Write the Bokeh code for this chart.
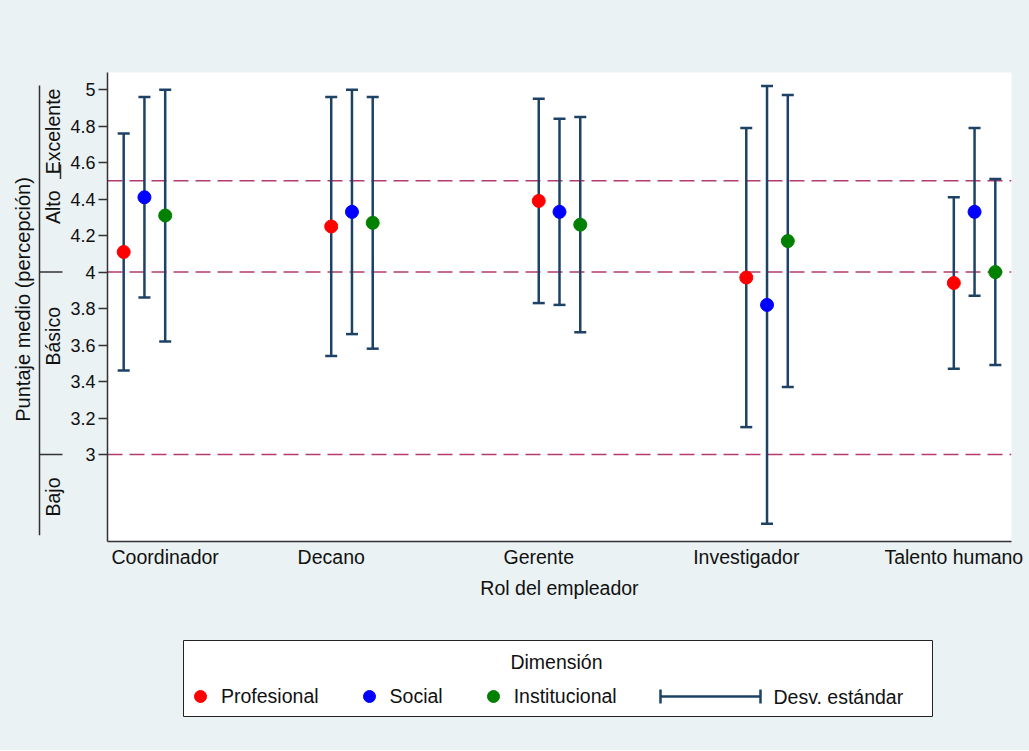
import numpy as np
from math import pi
from bokeh.plotting import figure
from bokeh.models import (ColumnDataSource, Whisker, TeeHead, Span, FixedTicker, Range1d,
                          Legend, LegendItem, CustomJSTickFormatter)
from bokeh.layouts import row, column
from bokeh.core.properties import value
from bokeh.embed import file_html
from bokeh.resources import INLINE

# ---------------- data ----------------
roles = ["Coordinador", "Decano", "Gerente", "Investigador", "Talento humano"]
dimensions = ["Profesional", "Social", "Institucional"]

prof_mean = [4.11, 4.25, 4.39, 3.97, 3.94]
prof_sd = [0.65, 0.71, 0.56, 0.82, 0.47]
soc_mean = [4.41, 4.33, 4.33, 3.82, 4.33]
soc_sd = [0.55, 0.67, 0.51, 1.20, 0.46]
inst_mean = [4.31, 4.27, 4.26, 4.17, 4.00]
inst_sd = [0.69, 0.69, 0.59, 0.80, 0.51]

ref_lines = [3.0, 4.0, 4.5]
y_ticks = [3.0, 3.2, 3.4, 3.6, 3.8, 4.0, 4.2, 4.4, 4.6, 4.8, 5.0]
y_tick_labels = ["3", "3.2", "3.4", "3.6", "3.8", "4", "4.2", "4.4", "4.6", "4.8", "5"]
band_names = ["Bajo", "Básico", "Alto", "Excelente"]
band_label_pos = [2.767, 3.648, 4.355, 4.771]
band_breaks = [3.0, 4.0]
role_tick_pos = [0.1, 0.9, 1.9, 2.9, 3.9]

# ---------------- style ----------------
BG = "#eaf2f3"
FONT = "Liberation Sans"
FS = "19.5px"
TXT = "#111111"
BAR = "#1e4266"
COLORS = ["#ff0000", "#0000ff", "#008000"]
OFFSETS = [-0.1, 0.0, 0.1]

# ---------------- main figure ----------------
main = figure(width=962, height=618, x_range=Range1d(-0.178, 4.178), y_range=Range1d(2.523, 5.094),
              output_backend="svg", toolbar_location=None,
              min_border_left=38, min_border_right=18, min_border_top=72, min_border_bottom=77)
main.background_fill_color = "white"
main.border_fill_color = BG
main.outline_line_color = None
main.grid.visible = False

for v in ref_lines:
    main.add_layout(Span(location=v, dimension="width", line_color="#b23a6e", line_width=1.5,
                         line_dash="15 7", level="underlay"))

series = [(prof_mean, prof_sd), (soc_mean, soc_sd), (inst_mean, inst_sd)]
for (m, s), col, off in zip(series, COLORS, OFFSETS):
    m = np.array(m); s = np.array(s)
    src = ColumnDataSource(dict(x=np.arange(len(roles)) + off, mean=m, upper=m + s, lower=m - s))
    w = Whisker(base="x", upper="upper", lower="lower", source=src, line_color=BAR, line_width=2.5,
                upper_head=TeeHead(size=12, line_color=BAR, line_width=2.5),
                lower_head=TeeHead(size=12, line_color=BAR, line_width=2.5), level="underlay")
    main.add_layout(w)
    main.scatter("x", "mean", source=src, size=13, color=col)

yax = main.yaxis[0]
yax.ticker = FixedTicker(ticks=y_ticks)
yax.formatter = CustomJSTickFormatter(args=dict(labels=y_tick_labels), code="return labels[index]")
yax.major_tick_out = 9
yax.major_tick_in = 0
yax.minor_tick_line_color = None
yax.major_label_standoff = 3
yax.axis_line_color = "#333333"
yax.axis_line_width = 1.5
yax.major_tick_line_color = "#333333"
yax.major_tick_line_width = 1.5
yax.major_label_text_font = FONT
yax.major_label_text_font_size = "18px"
yax.major_label_text_color = TXT

xax = main.xaxis[0]
xax.ticker = FixedTicker(ticks=role_tick_pos)
xax.formatter = CustomJSTickFormatter(args=dict(names=roles), code="return names[index]")
xax.major_tick_out = 0
xax.major_tick_in = 0
xax.minor_tick_line_color = None
xax.major_tick_line_color = None
xax.axis_line_color = "#333333"
xax.axis_line_width = 1.5
xax.major_label_standoff = 4
xax.major_label_text_font = FONT
xax.major_label_text_font_size = FS
xax.major_label_text_color = TXT
xax.axis_label = "Rol del empleador"
xax.axis_label_text_font = FONT
xax.axis_label_text_font_size = FS
xax.axis_label_text_font_style = "normal"
xax.axis_label_text_color = TXT
xax.axis_label_standoff = 6

# ---------------- left decoration (title + qualitative bands) ----------------
lf = figure(width=67, height=618, x_range=Range1d(0, 67), y_range=main.y_range,
            x_axis_location=None, y_axis_location=None, output_backend="svg", toolbar_location=None,
            min_border_left=0, min_border_right=0, min_border_top=72, min_border_bottom=77)
lf.background_fill_color = BG
lf.border_fill_color = BG
lf.outline_line_color = None
lf.grid.visible = False

lf.segment(x0=39, y0=5.023, x1=39, y1=2.557, line_color="#333333", line_width=1.5)
lf.segment(x0=39, y0=band_breaks, x1=62, y1=band_breaks, line_color="#333333", line_width=1.5)
lf.segment(x0=60, y0=4.51, x1=60, y1=4.59, line_color="#333333", line_width=1.5)
lf.text(x=52, y=band_label_pos, text=band_names, angle=pi / 2, text_align="center",
        text_baseline="middle", text_font=value(FONT), text_font_size=value(FS), text_color=TXT)
lf.text(x=22, y=[3.85], text=["Puntaje medio (percepción)"], angle=pi / 2, text_align="center",
        text_baseline="middle", text_font=value(FONT), text_font_size=value("20px"), text_color=TXT)

# ---------------- legend panel ----------------
lg = figure(width=1029, height=132, x_range=Range1d(183, 932), y_range=Range1d(716, 640),
            x_axis_location=None, y_axis_location=None, output_backend="svg", toolbar_location=None,
            min_border_left=183, min_border_right=97, min_border_top=22, min_border_bottom=34)
lg.background_fill_color = "white"
lg.border_fill_color = BG
lg.outline_line_color = "#222222"
lg.outline_line_width = 1
lg.grid.visible = False

items = []
for name, col in zip(dimensions, COLORS):
    r = lg.scatter(x=[0], y=[0], size=13, color=col)
    items.append(LegendItem(label=name, renderers=[r]))
leg = Legend(items=items, orientation="horizontal", location=(2, 5), glyph_width=30, glyph_height=30,
             label_height=30, label_standoff=6, spacing=35, padding=0, margin=0,
             border_line_color=None, background_fill_alpha=0,
             label_text_font=FONT, label_text_font_size=FS, label_text_color=TXT)
lg.add_layout(leg, "center")

lg.text(x=[556], y=[661], text=["Dimensión"], text_align="center", text_baseline="middle",
        text_font=value(FONT), text_font_size=value(FS), text_color=TXT)
lg.segment(x0=[660, 660, 760], y0=[696, 689, 689], x1=[760, 660, 760], y1=[696, 703, 703],
           line_color=BAR, line_width=2.5)
lg.text(x=[773], y=[696], text=["Desv. estándar"], text_align="left", text_baseline="middle",
        text_font=value(FONT), text_font_size=value(FS), text_color=TXT)

layout = column(row(lf, main, styles={"background-color": BG}), lg, styles={"background-color": BG})
open("out.html", "w").write(file_html(layout, INLINE))
